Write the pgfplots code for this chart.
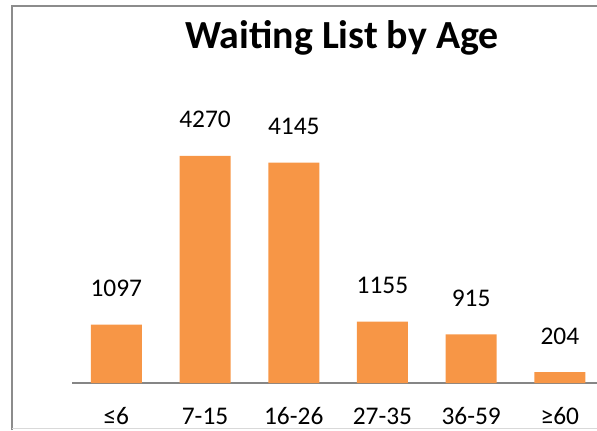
\documentclass[border=0pt]{standalone}
\usepackage{pgfplots}
\pgfplotsset{compat=1.18}
\usepackage{fontspec}
\setmainfont{Carlito}
\definecolor{barorange}{HTML}{F79646}
\definecolor{framegray}{HTML}{8C8C8C}
\definecolor{axisgray}{HTML}{868686}
\begin{document}
\begin{tikzpicture}[x=1bp,y=1bp]
\begin{axis}[
  at={(72bp,47bp)}, anchor=south west,
  scale only axis, width=532.2bp, height=319bp,
  xmin=-0.5, xmax=5.5, ymin=0, ymax=6000,
  axis x line*=bottom, axis y line=none,
  x axis line style={draw=axisgray, line width=1.6bp},
  xtick={0,...,5}, xticklabels={≤6,7-15,16-26,27-35,36-59,≥60},
  major tick length=0pt,
  xticklabel style={anchor=base, yshift=-41bp, font=\fontsize{25.5}{30}\selectfont, text=black, inner sep=0pt},
  ybar, bar width=51bp,
  /pgf/number format/1000 sep={},
  /pgf/number format/assume math mode=true,
  nodes near coords,
  every node near coord/.append style={anchor=base, yshift=28bp, font=\fontsize{25.5}{30}\selectfont, text=black},
  clip=false,
]
\addplot[fill=barorange, draw=none] coordinates {(0,1097) (1,4270) (2,4145) (3,1155) (4,915) (5,204)};
\end{axis}
\draw[framegray, line width=2bp] (12,0) -- (12,424) -- (600,424);
\draw[black!15, line width=1bp] (12,1.5) -- (600,1.5);
\node[anchor=base, font=\fontsize{40}{44}\selectfont\bfseries, inner sep=0pt] at (342,382) {Waiting List by Age};
\pgfresetboundingbox
\useasboundingbox (0,0) rectangle (597,430);
\end{tikzpicture}
\end{document}
